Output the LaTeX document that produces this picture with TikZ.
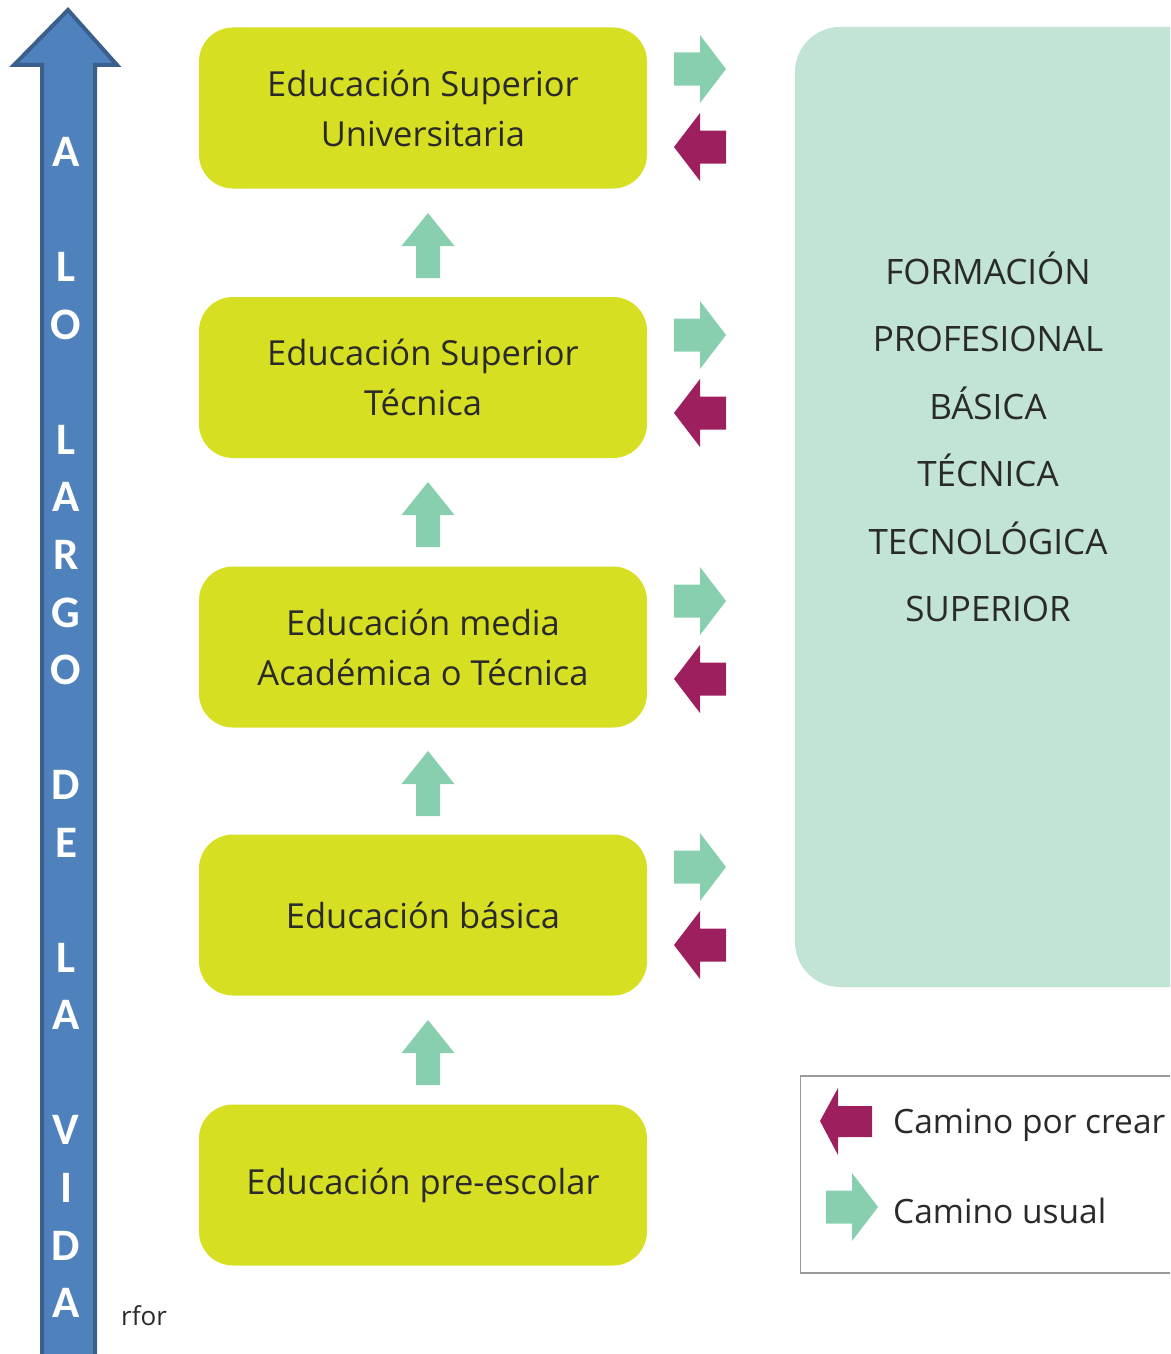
\documentclass[tikz,border=0pt]{standalone}
\usepackage{fontspec}
\setmainfont{Open Sans}
\newfontfamily\lettfont{Carlito}
\definecolor{boxyellow}{HTML}{D7DF23}
\definecolor{usualgreen}{HTML}{88CFAF}
\definecolor{crearmag}{HTML}{9E1F5E}
\definecolor{fpteal}{HTML}{C2E4D4}
\definecolor{bluefill}{HTML}{4F81BD}
\definecolor{blueline}{HTML}{3A5F8C}
\definecolor{txt}{HTML}{2A2A2A}
\definecolor{legline}{HTML}{9A9A9A}
\tikzset{
  level/.style={fill=boxyellow, rounded corners=34pt, minimum width=448pt, minimum height=161pt, text=txt, align=center, font=\fontsize{34.5}{50}\selectfont, inner sep=0pt},
  rarrow/.pic={\fill[usualgreen] (-26,-16.5) -- (0,-16.5) -- (0,-34) -- (26,0) -- (0,34) -- (0,16.5) -- (-26,16.5) -- cycle;},
  larrow/.pic={\fill[crearmag] (26,-16.5) -- (0,-16.5) -- (0,-34) -- (-26,0) -- (0,34) -- (0,16.5) -- (26,16.5) -- cycle;},
  uarrow/.pic={\fill[usualgreen] (-12,32) -- (-12,0) -- (-26.5,0) -- (0,-33) -- (26.5,0) -- (12,0) -- (12,32) -- cycle;},
  lett/.style={text=white, font=\lettfont\bfseries\fontsize{45}{45}\selectfont, anchor=center, inner sep=0pt},
  legtext/.style={text=txt, anchor=west, font=\fontsize{33.5}{33.5}\selectfont, inner sep=0pt}
}
\begin{document}
\begin{tikzpicture}[x=1pt,y=-1pt]
\useasboundingbox (0,0) rectangle (1170,1354);
\clip (0,0) rectangle (1170,1354);
% big blue arrow
\draw[fill=bluefill, draw=blueline, line width=4pt, line join=miter]
  (42,1370) -- (42,65) -- (14,65) -- (68,10) -- (117,65) -- (95,65) -- (95,1370);
\foreach \ch [count=\i from 0] in {A,{},L,O,{},L,A,R,G,O,{},D,E,{},L,A,{},V,I,D,A}{
  \node[lett] (l\i) at (66,{152+57.55*\i}) {\ch};
}
% levels
\node[level] (sup) at (423,108) {Educación Superior\\Universitaria};
\node[level] (tec) at (423,377.5) {Educación Superior\\Técnica};
\node[level] (med) at (423,647) {Educación media\\Académica o Técnica};
\node[level] (bas) at (423,915) {Educación básica};
\node[level] (pre) at (423,1185) {Educación pre-escolar};
% up arrows
\pic at (428,246) {uarrow};
\pic at (428,515) {uarrow};
\pic at (428,784) {uarrow};
\pic at (428,1053) {uarrow};
% formacion profesional box
\fill[fpteal, rounded corners=45pt] (795,27) rectangle (1230,987);
\node[text=txt, align=center, font=\fontsize{35}{67.5}\selectfont, inner sep=0pt] (fp) at (988,437)
  {FORMACIÓN\\PROFESIONAL\\BÁSICA\\TÉCNICA\\TECNOLÓGICA\\SUPERIOR};
% side arrows
\foreach \k in {0,1,2,3}{
  \pic at (700,{69+266*\k}) {rarrow};
  \pic at (700,{147+266*\k}) {larrow};
}
% legend
\draw[legline, line width=1.5pt] (1200,1076) -- (800.5,1076) -- (800.5,1273) -- (1200,1273);
\fill[crearmag] (872,1106) -- (838,1106) -- (838,1088) -- (820,1121) -- (838,1155) -- (838,1137) -- (872,1137) -- cycle;
\pic at (852,1207) {rarrow};
\node[legtext] (leg1) at (893,1125) {Camino por crear};
\node[legtext] (leg2) at (893,1211) {Camino usual};
\node[text=txt, anchor=west, font=\fontsize{26}{26}\selectfont, inner sep=0pt] (rfor) at (121,1316) {rfor};
\end{tikzpicture}
\end{document}
